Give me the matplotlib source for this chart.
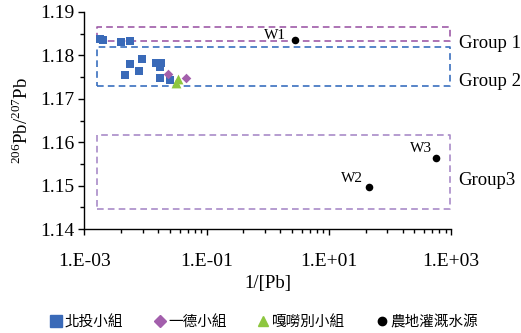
import matplotlib
matplotlib.use('Agg')
import matplotlib.pyplot as plt
from matplotlib.lines import Line2D
from matplotlib.ticker import FixedLocator, NullFormatter
import numpy as np

plt.rcParams['font.family'] = ['Liberation Serif', 'Noto Sans CJK TC']
plt.rcParams['mathtext.fontset'] = 'custom'
plt.rcParams['mathtext.rm'] = 'Liberation Serif'

# data
beitou_x = [1.79e-3, 1.98e-3, 3.9e-3, 5.5e-3, 8.7e-3, 5.5e-3, 4.6e-3, 7.8e-3,
            0.0151, 0.0176, 0.0172, 0.0172, 0.0256]
beitou_y = [1.1837, 1.1836, 1.1832, 1.1834, 1.1792, 1.1780, 1.1756, 1.1765,
            1.1783, 1.1783, 1.1774, 1.1749, 1.1743]
yide_x = [0.0231, 0.0451]
yide_y = [1.1757, 1.1748]
galaobie_x = [0.032, 0.0346]
galaobie_y = [1.1736, 1.1745]
water_x = [2.75, 45.0, 569.0]
water_y = [1.1836, 1.1497, 1.1563]
water_names = ['W1', 'W2', 'W3']

# group boxes: (name, x0, x1, y0, y1, colour)
groups = [
    ('Group 1', 1.6e-3, 950, 1.1833, 1.1865, '#9E5BA8'),
    ('Group 2', 1.6e-3, 950, 1.1730, 1.1819, '#3A6FBF'),
    ('Group3', 1.6e-3, 950, 1.1446, 1.1617, '#A98BC8'),
]
group_label_y = [1.1828, 1.1740, 1.1511]

xticks = [1e-3, 1e-1, 1e1, 1e3]
xticklabels = ['1.E-03', '1.E-01', '1.E+01', '1.E+03']

blue = '#3A6AB8'
purple = '#A35FAC'
green = '#8DC63F'

fig = plt.figure(figsize=(5.21, 3.33), dpi=100)
ax = fig.add_axes([0.162, 0.312, 0.704, 0.652])

for name, x0, x1, y0, y1, c in groups:
    ax.plot([x0, x1, x1, x0, x0], [y0, y0, y1, y1, y0], color=c,
            lw=1.2, ls=(0, (4, 2.5)), zorder=1)

ax.scatter(beitou_x, beitou_y, marker='s', s=28, color=blue, zorder=3, lw=0)
ax.scatter(yide_x, yide_y, marker='D', s=24, color=purple, zorder=3, lw=0)
ax.scatter(galaobie_x, galaobie_y, marker='^', s=50, color=green, zorder=3, lw=0)
ax.scatter(water_x, water_y, marker='o', s=30, color='black', zorder=4, lw=0)

offsets = [(-6, 3), (-4, 6), (-3, 7)]
for x, y, n, off in zip(water_x, water_y, water_names, offsets):
    ax.annotate(n, (x, y), xytext=off, textcoords='offset points',
                ha='right', va='center', fontsize=11)

for (name, *_), gy in zip(groups, group_label_y):
    ax.text(1.02, gy, name, transform=ax.get_yaxis_transform(),
            ha='left', va='center', fontsize=13.5, clip_on=False)

ax.set_xscale('log')
ax.set_xlim(1e-3, 1e3)
ax.set_ylim(1.14, 1.19)
ax.xaxis.set_major_locator(FixedLocator(xticks))
ax.set_xticklabels(xticklabels)
minor = [m * k ** 2 for m in xticks[:-1] for k in range(2, 10)]
ax.xaxis.set_minor_locator(FixedLocator(minor))
ax.xaxis.set_minor_formatter(NullFormatter())
ax.set_yticks(np.arange(1.14, 1.1901, 0.01))
ax.set_yticks(np.arange(1.145, 1.19, 0.01), minor=True)
ax.set_yticklabels(['%.2f' % v for v in np.arange(1.14, 1.1901, 0.01)])

ax.spines['top'].set_visible(False)
ax.spines['right'].set_visible(False)
for s in ('left', 'bottom'):
    ax.spines[s].set_linewidth(1.0)
ax.tick_params(which='major', direction='out', length=4, width=1, labelsize=14)
ax.tick_params(axis='x', which='major', pad=13)
ax.tick_params(axis='y', which='major', pad=3)
ax.tick_params(which='minor', direction='out', length=3, width=1)

ax.set_xlabel('1/[Pb]', fontsize=13.5, labelpad=4)
ax.set_ylabel(r'$^{206}$Pb/$^{207}$Pb', fontsize=13.5, labelpad=6)

handles = [
    Line2D([], [], marker='s', color=blue, ls='none', ms=8),
    Line2D([], [], marker='D', color=purple, ls='none', ms=6),
    Line2D([], [], marker='^', color=green, ls='none', ms=7.5),
    Line2D([], [], marker='o', color='black', ls='none', ms=6),
]
labels = ['北投小組', '一德小組', '嘎嘮別小組', '農地灌溉水源']
fig.legend(handles, labels, loc='center', bbox_to_anchor=(265 / 521, 1 - 322 / 333),
           ncol=4, frameon=False, handlelength=0.6, handletextpad=0.3,
           columnspacing=2.2, prop={'family': 'Noto Sans CJK TC', 'size': 10.5})

fig.savefig('out.png', dpi=100)
